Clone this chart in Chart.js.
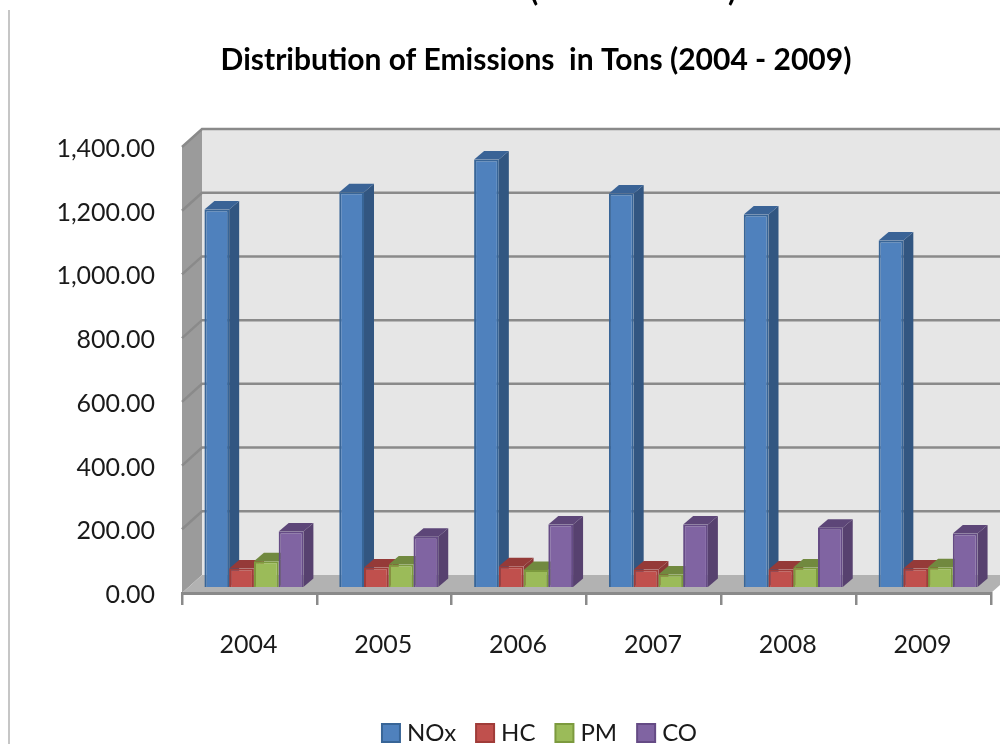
<!DOCTYPE html>
<html>
<head>
<meta charset="utf-8">
<title>Distribution of Emissions in Tons</title>
<script src="https://cdn.jsdelivr.net/npm/chart.js@4"></script>
<style>
  html, body { margin: 0; padding: 0; background: #fff; }
  #wrap { position: relative; width: 1000px; height: 744px; overflow: hidden; }
  #edge { position: absolute; left: 8px; top: 10px; width: 2px; height: 734px; background: #c6c6c6; }
  canvas { position: absolute; left: 0; top: 0; filter: blur(0.7px); }
</style>
</head>
<body>
<div id="wrap">
  <div id="edge"></div>
  <canvas id="chart" width="1000" height="744"></canvas>
</div>
<script>
const years = ['2004', '2005', '2006', '2007', '2008', '2009'];
const nox = [1185, 1239, 1342, 1235, 1169, 1088];
const hc = [58, 61, 65, 55, 55, 58];
const pm = [81, 71, 53, 39, 61, 62];
const co = [174, 158, 196, 196, 186, 168];

const fontName = 'Lato, "Open Sans", sans-serif';
const gridColor = '#8a8a8a';

// how far the walls go back, and where the bars stand on the floor
const wallDx = 20, wallDy = 18;
const barDx = 4.5, barDy = 6;
const sideDx = 10, sideDy = 8.5;

function poly(ctx, points, fill) {
  ctx.beginPath();
  points.forEach((p, i) => i ? ctx.lineTo(p[0], p[1]) : ctx.moveTo(p[0], p[1]));
  ctx.closePath();
  ctx.fillStyle = fill;
  ctx.fill();
}

// Chart.js has no 3D bars, so walls and bar sides are added here
const box3d = {
  id: 'box3d',
  afterLayout(chart) {
    // the tick labels are wider than the space kept for the axis, do not clip them
    chart.scales.y.left = 0;
    // legend sits a little right of the title
    chart.legend.left += 6;
    chart.legend.right += 6;
  },
  beforeDraw(chart) {
    const ctx = chart.ctx;
    const { left, right, top, bottom } = chart.chartArea;
    const y = chart.scales.y;
    ctx.save();
    poly(ctx, [[left + wallDx, top - wallDy], [right + wallDx, top - wallDy], [right + wallDx, bottom - wallDy], [left + wallDx, bottom - wallDy]], '#e6e6e6');
    poly(ctx, [[left, top], [left + wallDx, top - wallDy], [left + wallDx, bottom - wallDy], [left, bottom]], '#9b9b9b');
    poly(ctx, [[left, bottom], [left + wallDx, bottom - wallDy], [right + wallDx, bottom - wallDy], [right, bottom]], '#b2b2b2');
    ctx.strokeStyle = gridColor;
    ctx.lineWidth = 2.5;
    y.ticks.forEach(t => {
      if (t.value === 0) return;
      const py = y.getPixelForValue(t.value);
      ctx.beginPath();
      ctx.moveTo(left, py);
      ctx.lineTo(left + wallDx, py - wallDy);
      ctx.lineTo(right + wallDx, py - wallDy);
      ctx.stroke();
    });
    ctx.restore();
  },
  beforeDatasetsDraw(chart) {
    // left to right, so each bar covers the side of the one before it
    const ctx = chart.ctx;
    ctx.save();
    ctx.translate(barDx, -barDy);
    chart.data.datasets.forEach((ds, i) => {
      chart.getDatasetMeta(i).data.forEach(bar => {
        const l = bar.x - bar.width / 2, r = bar.x + bar.width / 2;
        poly(ctx, [[r, bar.y], [r + sideDx, bar.y - sideDy], [r + sideDx, bar.base - sideDy], [r, bar.base]], ds.sideColor);
        poly(ctx, [[l, bar.y], [l + sideDx, bar.y - sideDy], [r + sideDx, bar.y - sideDy], [r, bar.y]], ds.topColor);
        bar.draw(ctx);
      });
    });
    ctx.restore();
  },
  beforeDatasetDraw() {
    return false; // already drawn above
  },
  afterDraw(chart) {
    // tails of the line cut off above this picture
    const ctx = chart.ctx;
    ctx.save();
    ctx.font = 'bold 30px ' + fontName;
    ctx.fillStyle = '#000';
    ctx.textAlign = 'center';
    ctx.fillText('(', 534, -9);
    ctx.fillText(')', 732, -9);
    ctx.restore();
  }
};

new Chart(document.getElementById('chart'), {
  type: 'bar',
  data: {
    labels: years,
    datasets: [
      { label: 'NOx', data: nox, backgroundColor: '#4f81bd', borderColor: '#386597', sideColor: '#325681', topColor: '#3a6396' },
      { label: 'HC', data: hc, backgroundColor: '#c0504d', borderColor: '#a03c39', sideColor: '#8a3735', topColor: '#953a38' },
      { label: 'PM', data: pm, backgroundColor: '#9bbb59', borderColor: '#7c9a3e', sideColor: '#6c853c', topColor: '#71893f' },
      { label: 'CO', data: co, backgroundColor: '#8064a2', borderColor: '#654b85', sideColor: '#57416f', topColor: '#5d4678' }
    ]
  },
  options: {
    responsive: false,
    animation: false,
    layout: { padding: { left: 81, right: 9, top: 0, bottom: -11 } },
    datasets: { bar: { categoryPercentage: 0.734, barPercentage: 1, borderWidth: 2 } },
    scales: {
      x: {
        afterFit: scale => { scale.height = 103; },
        grid: { drawOnChartArea: false, color: gridColor, lineWidth: 2.5, tickLength: 12 },
        border: { color: gridColor, width: 3 },
        ticks: { color: '#1a1a1a', padding: 25, labelOffset: -1, font: { family: fontName, size: 25 }, maxRotation: 0 }
      },
      y: {
        min: 0,
        max: 1400,
        afterFit: scale => { scale.width = 101; },
        grid: { display: false, drawTicks: false },
        border: { display: false },
        ticks: {
          stepSize: 200,
          color: '#1a1a1a',
          padding: 27,
          labelOffset: 2,
          font: { family: fontName, size: 25 },
          callback: value => value.toLocaleString('en-US', { minimumFractionDigits: 2, maximumFractionDigits: 2 })
        }
      }
    },
    plugins: {
      title: {
        display: true,
        text: 'Distribution of Emissions  in Tons (2004 - 2009)',
        color: '#000',
        font: { family: fontName, size: 30, weight: 'bold', lineHeight: 1.2 },
        padding: { top: 42, bottom: 69 }
      },
      legend: {
        position: 'bottom',
        labels: {
          usePointStyle: true,
          pointStyle: 'rect',
          boxWidth: 8,
          boxHeight: 18,
          padding: 25,
          color: '#1a1a1a',
          font: { family: fontName, size: 24 }
        }
      },
      tooltip: { enabled: false }
    }
  },
  plugins: [box3d]
});
</script>
</body>
</html>
